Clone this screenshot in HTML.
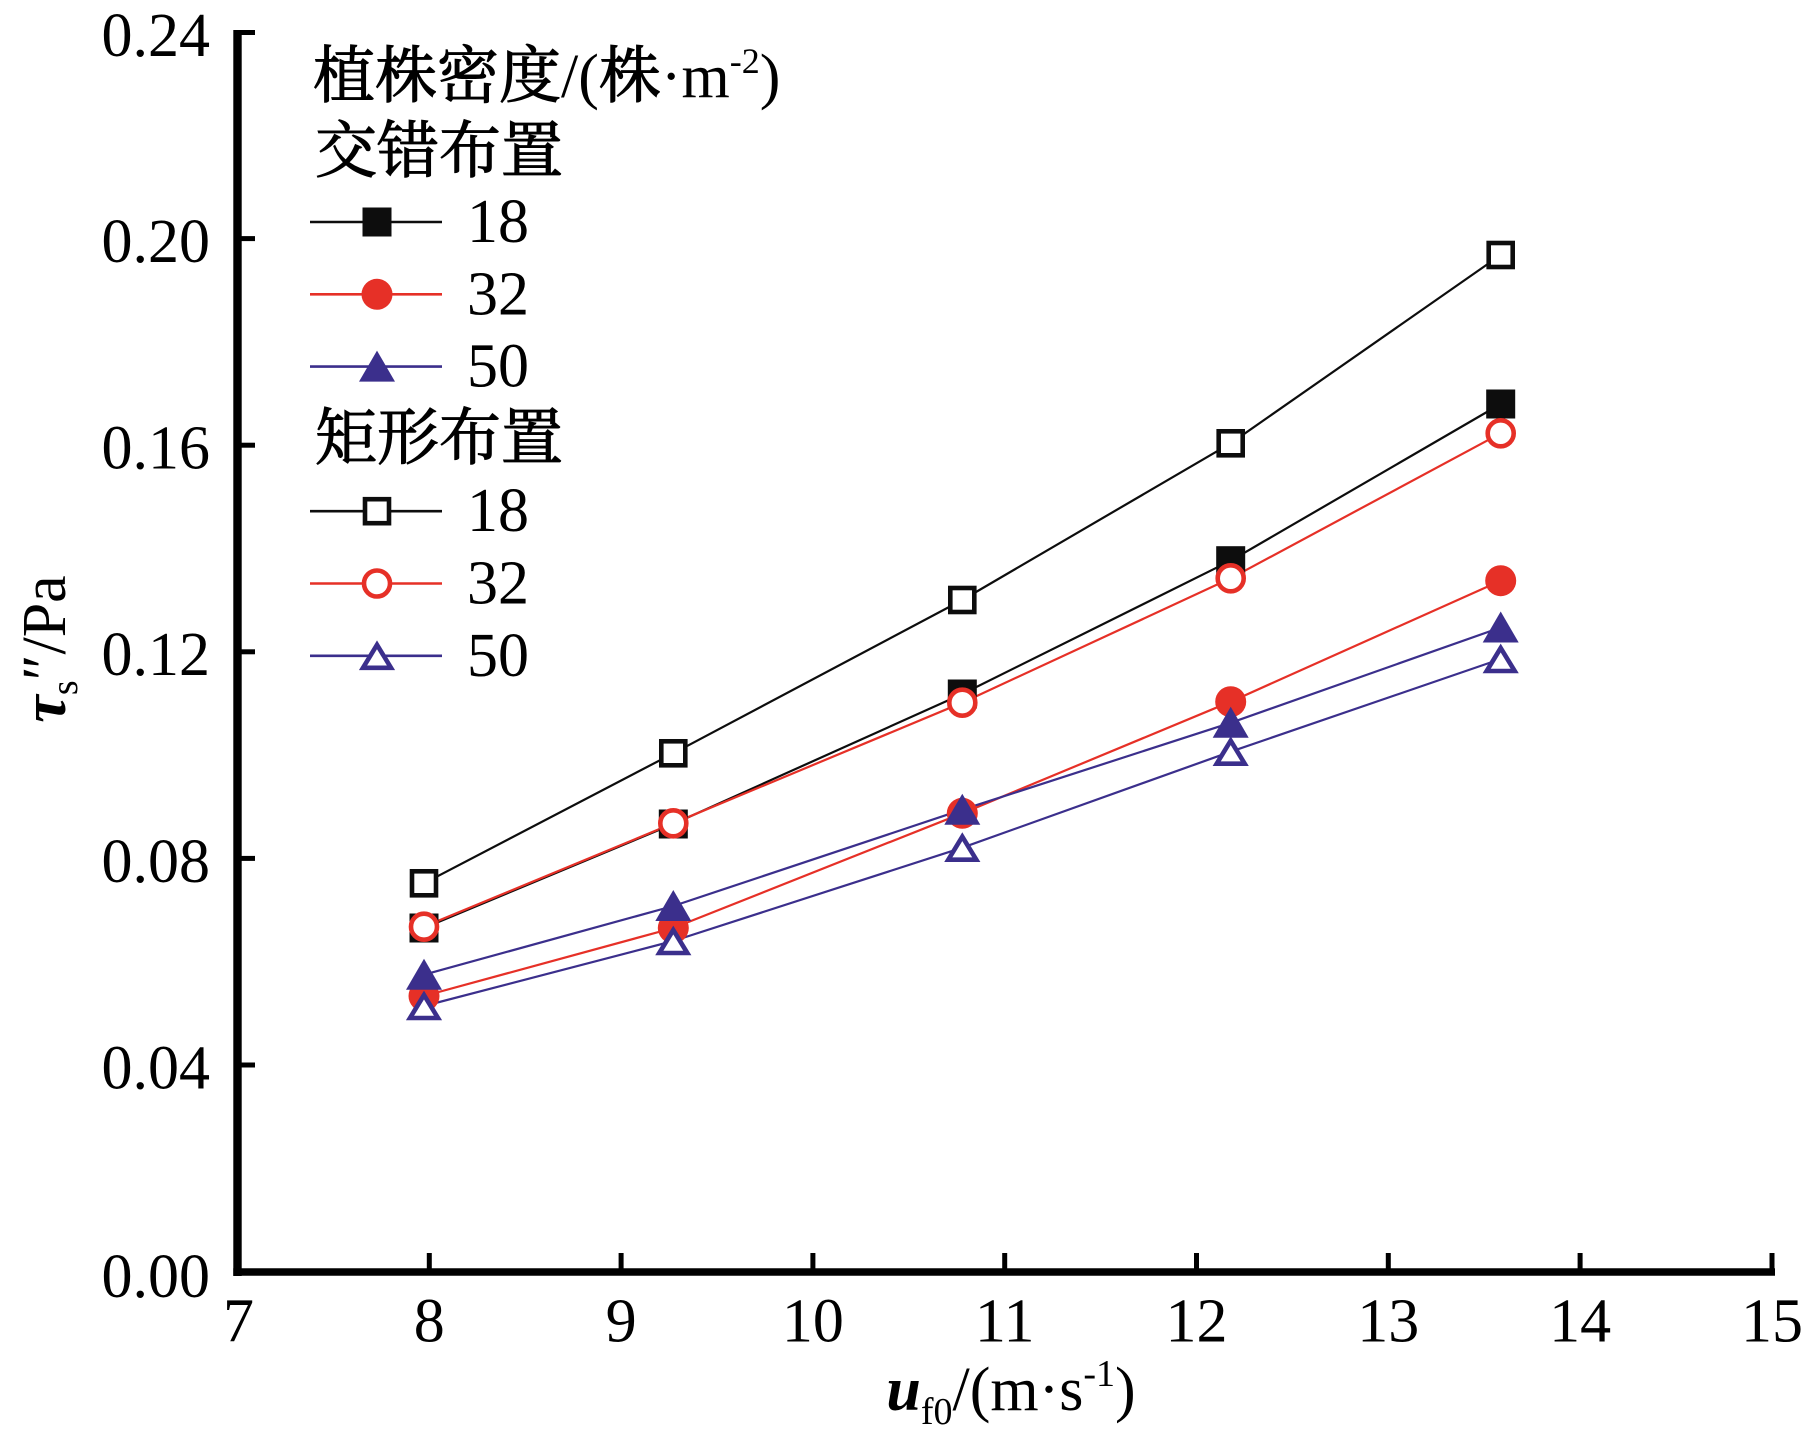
<!DOCTYPE html>
<html>
<head>
<meta charset="utf-8">
<style>
  html, body { margin: 0; padding: 0; background: #ffffff; }
  svg { display: block; }
  text { font-family: "Liberation Serif", "Noto Serif CJK SC", serif; fill: #000; }
  .cjk { stroke: #000; stroke-width: 1.1; }
</style>
</head>
<body>
<svg width="1809" height="1437" viewBox="0 0 1809 1437" xmlns="http://www.w3.org/2000/svg">
  <rect x="0" y="0" width="1809" height="1437" fill="#ffffff"/>

  <!-- Axes -->
  <line x1="237.5" y1="30" x2="237.5" y2="1276" stroke="#000" stroke-width="8.4"/>
  <line x1="233.3" y1="1272" x2="1775" y2="1272" stroke="#000" stroke-width="7.6"/>

  <!-- Y ticks (inside, to the right) -->
  <g stroke="#000" stroke-width="5">
    <line x1="240" y1="32.5" x2="255" y2="32.5"/>
    <line x1="240" y1="238.6" x2="255" y2="238.6"/>
    <line x1="240" y1="445.2" x2="255" y2="445.2"/>
    <line x1="240" y1="651.8" x2="255" y2="651.8"/>
    <line x1="240" y1="858.4" x2="255" y2="858.4"/>
    <line x1="240" y1="1065" x2="255" y2="1065"/>
  </g>
  <!-- X ticks (inside, upward) -->
  <g stroke="#000" stroke-width="5">
    <line x1="429.3" y1="1253" x2="429.3" y2="1270"/>
    <line x1="621.1" y1="1253" x2="621.1" y2="1270"/>
    <line x1="812.9" y1="1253" x2="812.9" y2="1270"/>
    <line x1="1004.7" y1="1253" x2="1004.7" y2="1270"/>
    <line x1="1196.5" y1="1253" x2="1196.5" y2="1270"/>
    <line x1="1388.3" y1="1253" x2="1388.3" y2="1270"/>
    <line x1="1580.1" y1="1253" x2="1580.1" y2="1270"/>
    <line x1="1772" y1="1253" x2="1772" y2="1270"/>
  </g>

  <!-- Y tick labels -->
  <g font-size="62" text-anchor="end">
    <text x="210" y="56">0.24</text>
    <text x="210" y="262">0.20</text>
    <text x="210" y="468.6">0.16</text>
    <text x="210" y="675.2">0.12</text>
    <text x="210" y="881.8">0.08</text>
    <text x="210" y="1088.4">0.04</text>
    <text x="210" y="1297">0.00</text>
  </g>

  <!-- X tick labels -->
  <g font-size="62" text-anchor="middle">
    <text x="238.5" y="1341.7">7</text>
    <text x="429.3" y="1341.7">8</text>
    <text x="621.1" y="1341.7">9</text>
    <text x="812.9" y="1341.7">10</text>
    <text x="1004.7" y="1341.7">11</text>
    <text x="1196.5" y="1341.7">12</text>
    <text x="1388.3" y="1341.7">13</text>
    <text x="1580.1" y="1341.7">14</text>
    <text x="1772" y="1341.7">15</text>
  </g>

  <!-- X axis title -->
  <text x="1011" y="1410" font-size="62" text-anchor="middle"><tspan font-weight="bold" font-style="italic">u</tspan><tspan font-size="38" dy="14">f0</tspan><tspan dy="-14">/(m·s</tspan><tspan font-size="38" dy="-24">-1</tspan><tspan dy="24">)</tspan></text>

  <!-- Y axis title -->
  <text transform="translate(65,649) rotate(-90)" font-size="62" text-anchor="middle"><tspan font-weight="bold" font-style="italic">τ</tspan><tspan font-size="38" dy="12">s</tspan><tspan dy="-12">″/Pa</tspan></text>

  <!-- Series lines -->
  <g fill="none" stroke-width="2.2" stroke-linejoin="round">
    <polyline stroke="#0d0d0d" points="424,928 673.3,824 962.3,694 1230.7,560.7 1500.7,404"/>
    <polyline stroke="#e63027" points="424,996 673.3,928 962.3,813.3 1230.7,701.7 1500.7,580.7"/>
    <polyline stroke="#3b2f8c" points="424,974.7 673.3,906 962.3,809.7 1230.7,722.8 1500.7,627.5"/>
    <polyline stroke="#0d0d0d" points="424,883.3 673.3,753.3 962.3,600 1230.7,443.3 1500.7,255"/>
    <polyline stroke="#e63027" points="424,926.7 673.3,823.3 962.3,702.7 1230.7,578.3 1500.7,433.3"/>
    <polyline stroke="#3b2f8c" points="424,1006 673.3,941 962.3,847.7 1230.7,751.7 1500.7,659"/>
  </g>

  <!-- Filled squares (交错 18) -->
  <g fill="#0d0d0d">
    <rect x="409.5" y="913.5" width="29" height="29"/>
    <rect x="658.8" y="809.5" width="29" height="29"/>
    <rect x="947.8" y="679.5" width="29" height="29"/>
    <rect x="1216.2" y="546.2" width="29" height="29"/>
    <rect x="1486.2" y="389.5" width="29" height="29"/>
  </g>
  <!-- Filled circles (交错 32) -->
  <g fill="#e63027">
    <circle cx="424" cy="996" r="15.5"/>
    <circle cx="673.3" cy="928" r="15.5"/>
    <circle cx="962.3" cy="813.3" r="15.5"/>
    <circle cx="1230.7" cy="701.7" r="15.5"/>
    <circle cx="1500.7" cy="580.7" r="15.5"/>
  </g>
  <!-- Filled triangles (交错 50) -->
  <g fill="#3b2f8c">
    <polygon points="424,958.7 406,989.7 442,989.7"/>
    <polygon points="673.3,890 655.3,921 691.3,921"/>
    <polygon points="962.3,793.7 944.3,824.7 980.3,824.7"/>
    <polygon points="1230.7,706.8 1212.7,737.8 1248.7,737.8"/>
    <polygon points="1500.7,611.5 1482.7,642.5 1518.7,642.5"/>
  </g>
  <!-- Open squares (矩形 18) -->
  <g fill="#fff" stroke="#0d0d0d" stroke-width="4.6">
    <rect x="412" y="871.3" width="24" height="24"/>
    <rect x="661.3" y="741.3" width="24" height="24"/>
    <rect x="950.3" y="588" width="24" height="24"/>
    <rect x="1218.7" y="431.3" width="24" height="24"/>
    <rect x="1488.7" y="243" width="24" height="24"/>
  </g>
  <!-- Open circles (矩形 32) -->
  <g fill="#fff" stroke="#e63027" stroke-width="4.6">
    <circle cx="424" cy="926.7" r="13"/>
    <circle cx="673.3" cy="823.3" r="13"/>
    <circle cx="962.3" cy="702.7" r="13"/>
    <circle cx="1230.7" cy="578.3" r="13"/>
    <circle cx="1500.7" cy="433.3" r="13"/>
  </g>
  <!-- Open triangles (矩形 50) -->
  <g fill="#fff" stroke="#3b2f8c" stroke-width="4.6" stroke-linejoin="miter">
    <polygon points="424,995 410,1018 438,1018"/>
    <polygon points="673.3,930 659.3,953 687.3,953"/>
    <polygon points="962.3,836.7 948.3,859.7 976.3,859.7"/>
    <polygon points="1230.7,740.7 1216.7,763.7 1244.7,763.7"/>
    <polygon points="1500.7,648 1486.7,671 1514.7,671"/>
  </g>

  <!-- Legend -->
  <text x="313" y="97" font-size="62"><tspan class="cjk">植株密度</tspan>/(<tspan class="cjk">株</tspan>·m<tspan font-size="36" dy="-24">-2</tspan><tspan dy="24">)</tspan></text>
  <text x="315" y="172" font-size="62" class="cjk">交错布置</text>

  <!-- row 1: filled square 18 -->
  <line x1="310" y1="222" x2="442" y2="222" stroke="#0d0d0d" stroke-width="2.6"/>
  <rect x="362.5" y="207.5" width="29" height="29" fill="#0d0d0d"/>
  <text x="467" y="242" font-size="62">18</text>

  <!-- row 2: filled circle 32 -->
  <line x1="310" y1="294.3" x2="442" y2="294.3" stroke="#e63027" stroke-width="2.6"/>
  <circle cx="377" cy="294.3" r="15.5" fill="#e63027"/>
  <text x="467" y="314.3" font-size="62">32</text>

  <!-- row 3: filled triangle 50 -->
  <line x1="310" y1="366.6" x2="442" y2="366.6" stroke="#3b2f8c" stroke-width="2.6"/>
  <polygon points="377,350.6 359,381.6 395,381.6" fill="#3b2f8c"/>
  <text x="467" y="386.6" font-size="62">50</text>

  <text x="315" y="459" font-size="62" class="cjk">矩形布置</text>

  <!-- row 4: open square 18 -->
  <line x1="310" y1="511.2" x2="442" y2="511.2" stroke="#0d0d0d" stroke-width="2.6"/>
  <rect x="365" y="499.2" width="24" height="24" fill="#fff" stroke="#0d0d0d" stroke-width="4.6"/>
  <text x="467" y="531.2" font-size="62">18</text>

  <!-- row 5: open circle 32 -->
  <line x1="310" y1="583.5" x2="442" y2="583.5" stroke="#e63027" stroke-width="2.6"/>
  <circle cx="377" cy="583.5" r="13" fill="#fff" stroke="#e63027" stroke-width="4.6"/>
  <text x="467" y="603.5" font-size="62">32</text>

  <!-- row 6: open triangle 50 -->
  <line x1="310" y1="655.8" x2="442" y2="655.8" stroke="#3b2f8c" stroke-width="2.6"/>
  <polygon points="377,644.8 363,667.8 391,667.8" fill="#fff" stroke="#3b2f8c" stroke-width="4.6"/>
  <text x="467" y="675.8" font-size="62">50</text>
</svg>
</body>
</html>
